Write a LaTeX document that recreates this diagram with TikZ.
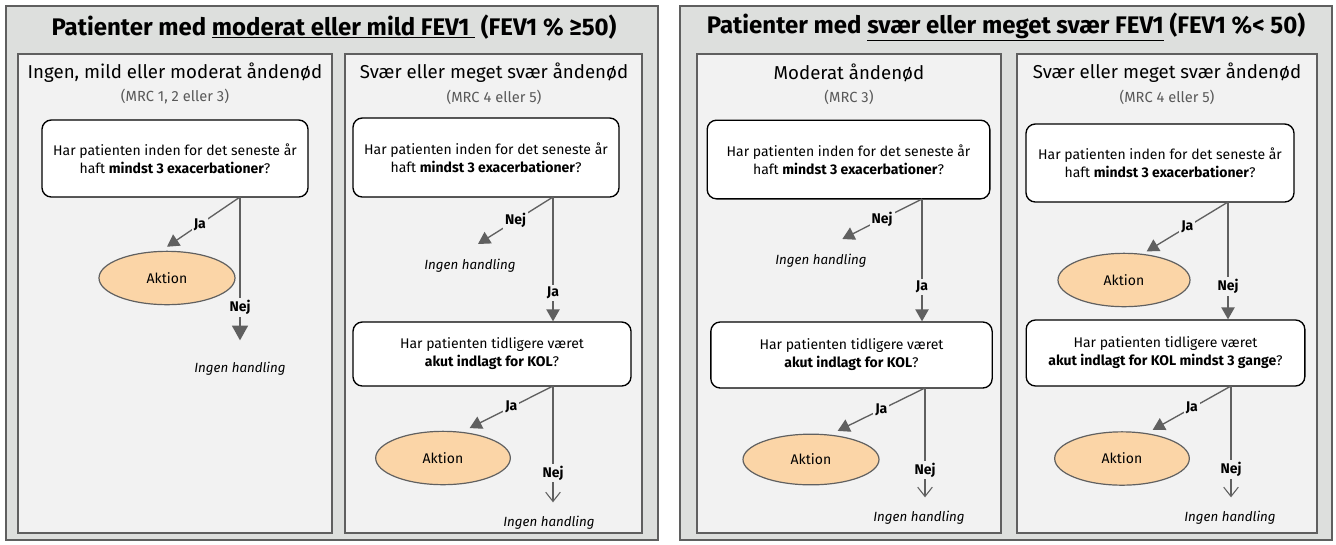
\documentclass[tikz,border=0pt]{standalone}
\usepackage{fontspec}
\setmainfont{Fira Sans}
\usetikzlibrary{arrows.meta, shapes.geometric}
\definecolor{outerbg}{HTML}{DDDFDD}
\definecolor{innerbg}{HTML}{F2F2F2}
\definecolor{bordergray}{HTML}{5F5F5F}
\definecolor{arrowgray}{HTML}{606060}
\definecolor{subgray}{HTML}{595959}
\definecolor{peach}{HTML}{FBD5A7}

\begin{document}
\begin{tikzpicture}[x=0.75pt,y=-0.75pt]
    \tikzstyle{outer}=[draw=bordergray, line width=1.6pt, fill=outerbg]
    \tikzstyle{inner}=[draw=bordergray, line width=1.2pt, fill=innerbg]
    \tikzstyle{title}=[font=\bfseries\fontsize{18}{21}\selectfont]
    \tikzstyle{heading}=[font=\fontsize{14}{16}\selectfont]
    \tikzstyle{sub}=[text=subgray, font=\fontsize{11}{13}\selectfont]
    \tikzstyle{question}=[shape=rectangle, rounded corners=7pt, draw=black, line width=1pt, fill=white, align=center, inner sep=0pt, font=\fontsize{10.5}{13.5}\selectfont]
    \tikzstyle{action}=[shape=ellipse, draw=arrowgray, line width=0.9pt, fill=peach, inner sep=0pt, font=\fontsize{10.5}{12}\selectfont]
    \tikzstyle{noact}=[font=\itshape\fontsize{10}{12}\selectfont]
    \tikzstyle{lbl}=[fill=innerbg, inner sep=1.5pt, font=\bfseries\fontsize{10.5}{12}\selectfont]
    \tikzstyle{arr}=[draw=arrowgray, line width=1pt, -{Triangle[width=10pt,length=9pt,fill=arrowgray]}]
    \tikzstyle{bigarr}=[draw=arrowgray, line width=1pt, -{Triangle[width=12pt,length=11pt,fill=arrowgray]}]
    \tikzstyle{openarr}=[draw=arrowgray, line width=0.8pt, -{Straight Barb[width=11pt,length=7pt]}]

    \useasboundingbox (0,0) rectangle (1336,544);
    \fill[white] (0,0) rectangle (1336,544);

    % panels
    \draw[outer] (6,6) rectangle (658,540);
    \draw[outer] (680,6) rectangle (1332,540);
    \draw[inner] (18,54) rectangle (332,533);
    \draw[inner] (345,54) rectangle (642,533);
    \draw[inner] (697,54) rectangle (1001,533);
    \draw[inner] (1017,54) rectangle (1317,533);

    \node[title] (T1) at (334,27) {Patienter med \underline{moderat eller mild FEV1\ } (FEV1 \% ≥50)};
    \node[title] (T2) at (1006,27) {Patienter med \underline{svær eller meget svær\ FEV1} (FEV1 \%< 50)};

    % moderat eller mild FEV1
    \node[heading] (H1) at (175,73) {Ingen, mild eller moderat åndenød};
    \node[sub] (M1) at (175,97) {(MRC 1, 2 eller 3)};
    \node[question, minimum width=199.5pt, minimum height=57.75pt] (Q1) at (175,158.5)
        {Har patienten inden for det seneste år\\haft \textbf{mindst 3 exacerbationer}?};
    \coordinate (S1) at (240,197);
    \node[action, minimum width=102pt, minimum height=40pt] (A1) at (167,278) {Aktion};
    \node[noact] (I1) at (240,369) {Ingen handling};

    \node[heading] (H2) at (494,73) {Svær eller meget svær åndenød};
    \node[sub] (M2) at (494,97) {(MRC 4 eller 5)};
    \node[question, minimum width=199.5pt, minimum height=59.25pt] (Q2) at (486,157.5)
        {Har patienten inden for det seneste år\\haft \textbf{mindst 3 exacerbationer}?};
    \coordinate (S2) at (553,197);
    \node[noact] (I2) at (470,266) {Ingen handling};
    \node[question, minimum width=208.5pt, minimum height=48pt] (Q3) at (492,354)
        {Har patienten tidligere været\\\textbf{akut indlagt for KOL}?};
    \coordinate (S3) at (553,386);
    \node[action, minimum width=101pt, minimum height=40pt] (A2) at (443,458) {Aktion};
    \node[noact] (I3) at (549,523) {Ingen handling};

    % svaer eller meget svaer FEV1
    \node[heading] (H3) at (849,73) {Moderat åndenød};
    \node[sub] (M3) at (849,97) {(MRC 3)};
    \node[question, minimum width=212pt, minimum height=59pt] (Q4) at (848.5,159.5)
        {Har patienten inden for det seneste år\\haft \textbf{mindst 3 exacerbationer}?};
    \coordinate (S4) at (922,199);
    \node[noact] (I4) at (821,261) {Ingen handling};
    \node[question, minimum width=211pt, minimum height=49.5pt] (Q5) at (851.5,355)
        {Har patienten tidligere været\\\textbf{akut indlagt for KOL}?};
    \coordinate (S5) at (925,388);
    \node[action, minimum width=102pt, minimum height=38pt] (A3) at (811,459.5) {Aktion};
    \node[noact] (I5) at (919,518) {Ingen handling};

    \node[heading] (H4) at (1167,73) {Svær eller meget svær åndenød};
    \node[sub] (M4) at (1167,97) {(MRC 4 eller 5)};
    \node[question, minimum width=201pt, minimum height=58.5pt] (Q6) at (1160,163)
        {Har patienten inden for det seneste år\\haft \textbf{mindst 3 exacerbationer}?};
    \coordinate (S6) at (1228,202);
    \node[action, minimum width=99pt, minimum height=40pt] (A4) at (1124,280) {Aktion};
    \node[question, minimum width=209pt, minimum height=49.5pt] (Q7) at (1165.5,353)
        {Har patienten tidligere været\\\textbf{akut indlagt for KOL mindst 3 gange}?};
    \coordinate (S7) at (1231,386);
    \node[action, minimum width=101pt, minimum height=40pt] (A5) at (1122,458.5) {Aktion};
    \node[noact] (I6) at (1230,518) {Ingen handling};

    % connectors
    \draw[arr] (S1) -- node[lbl, pos=0.55] {Ja} ([yshift=3pt]A1.north);
    \draw[bigarr] (S1) -- node[lbl, pos=0.77] {Nej} ([yshift=13pt]I1.north);
    \draw[arr] (S2) -- node[lbl, pos=0.5] {Nej} ([xshift=6pt,yshift=8pt]I2.north);
    \draw[arr] (S2) -- node[lbl, pos=0.77] {Ja} (S2 |- Q3.north);
    \draw[arr] (S3) -- node[lbl, pos=0.5] {Ja} ([xshift=20pt,yshift=2pt]A2.north);
    \draw[openarr] (S3) -- node[lbl, pos=0.75] {Nej} ([yshift=7pt]S3 |- I3.north);
    \draw[arr] (S4) -- node[lbl, pos=0.5] {Nej} ([xshift=16pt,yshift=8pt]I4.north);
    \draw[arr] (S4) -- node[lbl, pos=0.72] {Ja} (S4 |- Q5.north);
    \draw[arr] (S5) -- node[lbl, pos=0.5] {Ja} ([xshift=20pt,yshift=2pt]A3.north);
    \draw[openarr] (S5) -- node[lbl, pos=0.75] {Nej} ([yshift=7pt]S5 |- I5.north);
    \draw[arr] (S6) -- node[lbl, pos=0.5] {Ja} ([xshift=17pt,yshift=1pt]A4.north);
    \draw[arr] (S6) -- node[lbl, pos=0.72] {Nej} (S6 |- Q7.north);
    \draw[arr] (S7) -- node[lbl, pos=0.5] {Ja} ([xshift=23pt,yshift=1pt]A5.north);
    \draw[openarr] (S7) -- node[lbl, pos=0.75] {Nej} ([yshift=7pt]S7 |- I6.north);

\end{tikzpicture}
\end{document}
